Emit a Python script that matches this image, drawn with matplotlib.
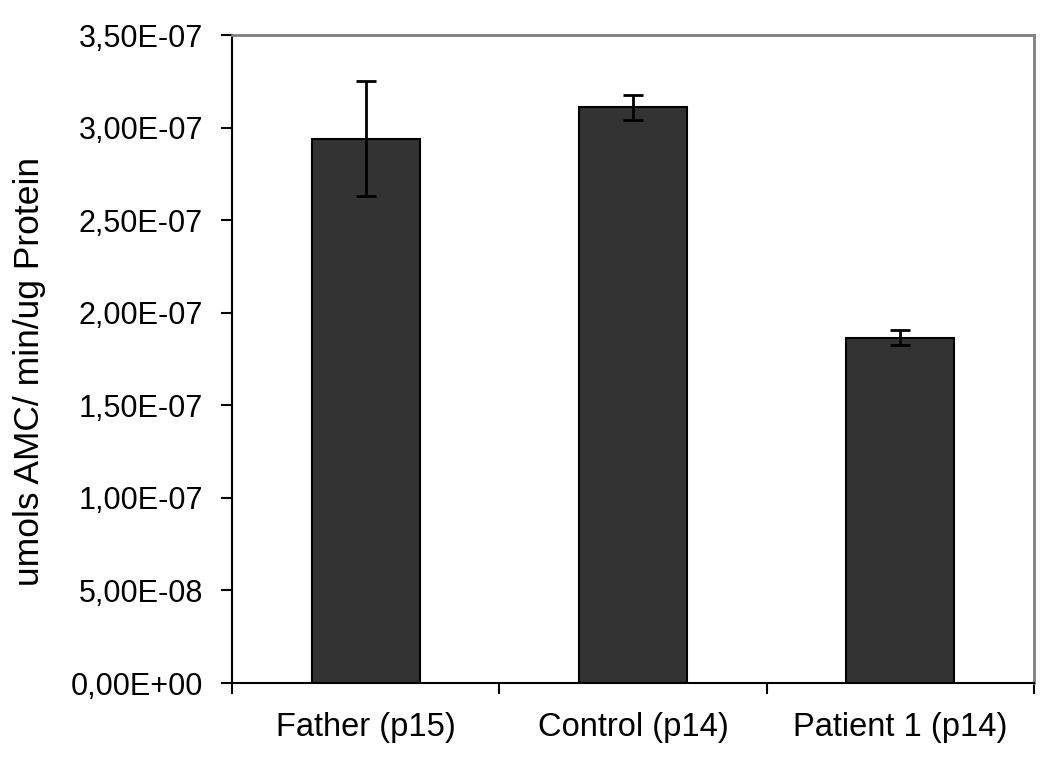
import matplotlib
matplotlib.use("Agg")
import matplotlib.pyplot as plt
from matplotlib.ticker import FuncFormatter

categories = ["Father (p15)", "Control (p14)", "Patient 1 (p14)"]
values = [2.94e-07, 3.11e-07, 1.865e-07]
errors = [0.31e-07, 0.067e-07, 0.04e-07]
yticks = [0, 0.5e-07, 1.0e-07, 1.5e-07, 2.0e-07, 2.5e-07, 3.0e-07, 3.5e-07]

plt.rcParams['font.family'] = ['Liberation Sans', 'DejaVu Sans']

fig = plt.figure(figsize=(10.5, 7.58), dpi=100)
ax = fig.add_axes([0.2210, 0.0989, 0.7638, 0.8549])

pos = [i + 0.5 for i in range(len(categories))]
ax.bar(pos, values, width=0.404, color="#333333", edgecolor="black", linewidth=1.5, zorder=2)
ax.errorbar(pos, values, yerr=errors, fmt="none", ecolor="black", elinewidth=2,
            capsize=7.5, capthick=2, zorder=3)

ax.set_xlim(0, 3)
ax.set_ylim(0, 3.5e-07)
ax.set_yticks(yticks)

def fmt(v, p):
    s = "%.2E" % v
    return s.replace(".", ",")
ax.yaxis.set_major_formatter(FuncFormatter(fmt))

ax.set_xticks([0, 1, 2, 3])
ax.set_xticklabels([])
ax.set_xticks(pos, minor=True)
ax.set_xticklabels(categories, minor=True)
ax.tick_params(axis="x", which="major", direction="out", length=8, width=1.5, color="black")
ax.tick_params(axis="x", which="minor", length=0, pad=21, labelsize=23.5)
ax.tick_params(axis="y", direction="out", length=8, width=1.5, pad=13, labelsize=22)

ax.set_ylabel("umols AMC/ min/ug Protein", fontsize=25.5, va="center")
ax.yaxis.set_label_coords(-0.252, 0.48)

for s in ["left", "bottom"]:
    ax.spines[s].set_color("black")
    ax.spines[s].set_linewidth(1.5)
for s in ["top", "right"]:
    ax.spines[s].set_color("#808080")
    ax.spines[s].set_linewidth(2)

fig.savefig("out.png", dpi=100)
